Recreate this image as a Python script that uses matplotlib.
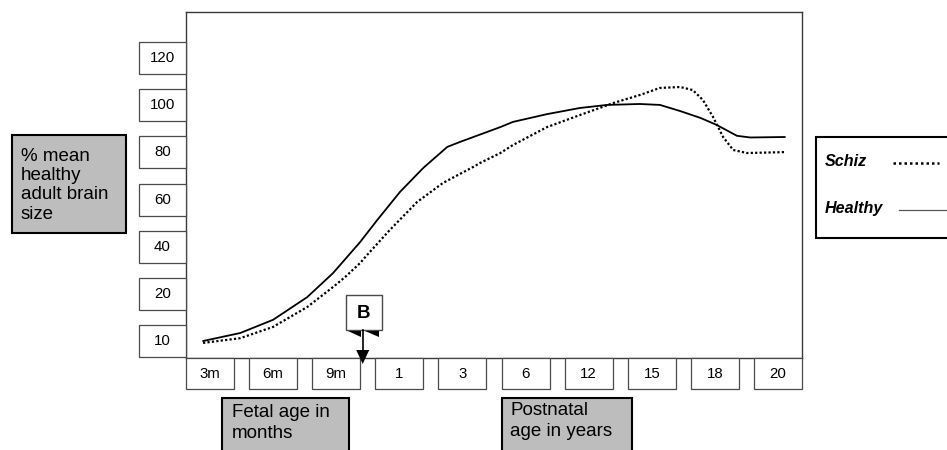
import numpy as np
import matplotlib
matplotlib.use("Agg")
import matplotlib.pyplot as plt
from matplotlib.patches import Rectangle, Polygon
from matplotlib.lines import Line2D

plt.rcParams['font.family'] = ['Liberation Sans', 'DejaVu Sans']

# ---------------- data ----------------
x_labels = ["3m", "6m", "9m", "1", "3", "6", "12", "15", "18", "20"]
y_tick_values = [10, 20, 40, 60, 80, 100, 120]
y_tick_labels = ["10", "20", "40", "60", "80", "100", "120"]

# x positions are fractional indices along the age categories
healthy_x = [-0.11, 0.48, 1.0, 1.54, 1.95, 2.38, 2.65, 3.01, 3.38, 3.76, 3.96,
             4.60, 4.80, 5.34, 5.86, 6.29, 6.81, 7.13, 7.45, 7.77, 8.03, 8.35,
             8.56, 9.11]
healthy_y = [10.0, 11.7, 14.5, 19.3, 28.8, 42.0, 51.3, 63.2, 73.4, 82.3, 84.4,
             90.7, 92.9, 96.2, 98.8, 100.1, 100.5, 100.1, 97.5, 94.6, 91.6, 87.0,
             86.3, 86.5]

schiz_x = [-0.11, 0.48, 1.0, 1.54, 1.95, 2.14, 2.38, 2.49, 2.85, 3.28, 3.69,
           4.17, 4.28, 4.60, 4.80, 5.34, 5.86, 6.39, 6.81, 7.13, 7.45, 7.65,
           7.81, 7.97, 8.13, 8.29, 8.51, 9.11]
schiz_y = [9.6, 10.6, 13.0, 17.2, 22.9, 27.1, 33.1, 36.5, 47.1, 58.9, 67.0,
           73.8, 75.5, 79.7, 83.1, 90.7, 95.8, 100.9, 104.3, 107.3, 107.7, 106.4,
           102.2, 95.0, 86.5, 81.0, 79.7, 80.1]

birth_x = 2.42
series_names = ["Schiz", "Healthy"]

# ---------------- figure ----------------
W, H = 947, 450
fig = plt.figure(figsize=(W / 100, H / 100), dpi=100)
fig.patch.set_facecolor("white")

ax = fig.add_axes([186 / W, 92 / H, 616 / W, 346 / H])

# piecewise-linear y scale: 10 -> 0, 20 -> 1, then 20 units per step
_vals = [0, 10, 20, 220]
_pos = [-1, 0, 1, 11]
def fwd(v):
    return np.interp(v, _vals, _pos)
def inv(p):
    return np.interp(p, _pos, _vals)
ax.set_yscale("function", functions=(fwd, inv))
ax.set_xlim(-0.38, 9.38)
ax.set_ylim(inv(-0.36), inv(6.975))
ax.set_xticks([])
ax.set_yticks([])
ax.minorticks_off()
for s in ax.spines.values():
    s.set_color("#3a3a3a")
    s.set_linewidth(1.0)

ax.plot(healthy_x, healthy_y, color="black", lw=1.3, solid_capstyle="round",
        solid_joinstyle="round")
ax.plot(schiz_x, schiz_y, color="black", lw=1.6, linestyle=(0, (1.0, 1.0)))

# overlay in pixel coordinates (y downward)
ov = fig.add_axes([0, 0, 1, 1], zorder=5)
ov.set_xlim(0, W)
ov.set_ylim(H, 0)
ov.axis("off")
ov.patch.set_alpha(0)

def to_px(x, y):
    dx, dy = ax.transData.transform((x, y))
    return dx, H - dy

box_ec = "#4a4a4a"
tick_fs = 10.8

# x tick boxes
y_bot = ax.get_ylim()[0]
for i, lab in enumerate(x_labels):
    cx, _ = to_px(i, y_bot)
    ov.add_patch(Rectangle((cx - 24, 358), 48, 31, fc="white", ec=box_ec, lw=0.9))
    ov.text(cx, 374, lab, ha="center", va="center", fontsize=tick_fs)

# y tick boxes
for v, lab in zip(y_tick_values, y_tick_labels):
    _, cy = to_px(0, v)
    ov.add_patch(Rectangle((139, cy - 16), 47, 32, fc="white", ec=box_ec, lw=0.9))
    ov.text(162.5, cy, lab, ha="center", va="center", fontsize=tick_fs)

gray = "#bdbdbd"
# y label box
ov.add_patch(Rectangle((12, 135), 114, 98, fc=gray, ec="black", lw=1.5))
ov.text(21, 148, "% mean\nhealthy\nadult brain\nsize", ha="left", va="top",
        fontsize=13.5, linespacing=1.17)

# fetal age box
ov.add_patch(Rectangle((222, 398), 127, 70, fc=gray, ec="black", lw=1.5))
ov.text(232, 404, "Fetal age in\nmonths", ha="left", va="top",
        fontsize=13.5, linespacing=1.27)

# postnatal box
ov.add_patch(Rectangle((502, 398), 130, 70, fc=gray, ec="black", lw=1.5))
ov.text(510, 402, "Postnatal\nage in years", ha="left", va="top",
        fontsize=13.5, linespacing=1.27)

# legend box
ov.add_patch(Rectangle((816, 137), 150, 101, fc="white", ec="black", lw=1.5))
ov.text(825, 161, series_names[0], ha="left", va="center", fontsize=11.6,
        fontweight="bold", fontstyle="italic")
ov.text(825, 209, series_names[1], ha="left", va="center", fontsize=11.6,
        fontweight="bold", fontstyle="italic")
ov.add_line(Line2D([893, 939], [163, 163], color="black", lw=1.8,
                   linestyle=(0, (1.0, 1.2))))
ov.add_line(Line2D([899, 950], [210, 210], color="#555555", lw=0.9))

# birth marker "B"
bx, _ = to_px(birth_x, y_bot)
ov.add_patch(Rectangle((bx - 17, 295), 36, 35, fc="white", ec=box_ec, lw=1.0))
ov.text(bx + 1, 313, "B", ha="center", va="center", fontsize=13.5, fontweight="bold")
ov.add_patch(Polygon([(bx - 15, 331), (bx - 2, 331), (bx - 2, 337)], closed=True,
                     fc="black", ec="none"))
ov.add_patch(Polygon([(bx + 2, 331), (bx + 16, 331), (bx + 16, 337)], closed=True,
                     fc="black", ec="none"))
ov.add_line(Line2D([bx, bx], [330, 352], color="black", lw=1.2))
ov.add_patch(Polygon([(bx - 6.5, 350), (bx + 6.5, 350), (bx, 364)], closed=True,
                     fc="black", ec="none"))

fig.savefig("out.png", dpi=100)
